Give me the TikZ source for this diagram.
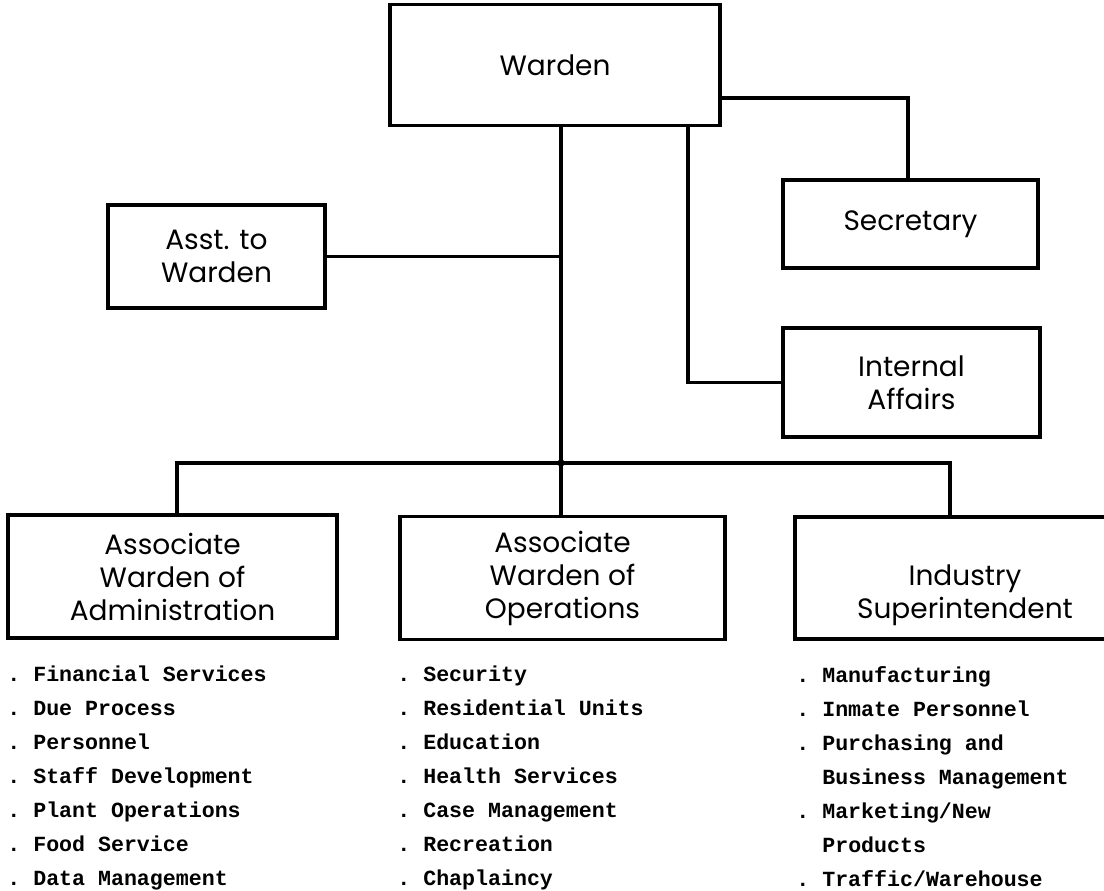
\documentclass[tikz,border=0pt]{standalone}
\usepackage{fontspec}
\setmainfont{Poppins}
\setmonofont{Liberation Mono}
\begin{document}
\begin{tikzpicture}[x=0.5pt, y=-0.5pt,
    every node/.style={inner sep=0pt},
    office/.style={draw, line width=1.8pt, align=center, font=\fontsize{14}{16.5}\selectfont},
    duty/.style={anchor=base west, font=\ttfamily\bfseries\frenchspacing\fontsize{10.8}{17}\selectfont},
    link/.style={line width=1.8pt}]
    \clip (0,0) rectangle (1104,890);
    % offices
    \node[office, minimum width=165pt, minimum height=60.5pt] (warden) at (555,65) {Warden};
    \node[office, minimum width=108.5pt, minimum height=51.5pt] (asst) at (216.5,256.5) {Asst. to\\Warden};
    \node[office, minimum width=127.5pt, minimum height=44pt] (secr) at (910.5,224) {Secretary};
    \node[office, minimum width=128.5pt, minimum height=54.5pt] (intaff) at (911.5,382.5) {Internal\\Affairs};
    \node[office, minimum width=164.5pt, minimum height=61.5pt] (adm) at (172.5,576.5) {Associate\\Warden of\\Administration};
    \node[office, minimum width=162.5pt, minimum height=61.5pt] (ops) at (562.5,578) {Associate\\Warden of\\Operations};
    \node[office, minimum width=170pt, minimum height=61pt] (ind) at (965,578) {\vphantom{Associate}\\Industry\\Superintendent};

    % lines
    \coordinate (bus) at (561,463);
    \coordinate (iatap) at (688,0);
    \draw[link] (warden.south -| bus) -- (ops.north -| bus);
    \draw[link] (asst.east) -- (asst.east -| bus);
    \draw[link] (warden.south -| iatap) |- (intaff.west);
    \draw[link] ([yshift=-16.5pt]warden.east) -| ([xshift=-1.25pt]secr.north);
    \draw[link] ([xshift=2.25pt]adm.north) |- (bus) -| ([xshift=-7.5pt]ind.north);
    \fill (bus) circle (1.8pt);

    % duties
    \foreach \duty [count=\i] in {. Financial Services, . Due Process, . Personnel, . Staff Development,
        . Plant Operations, . Food Service, . Data Management}
        \node[duty] (adm-\i) at (7,{681+34*(\i-1)}) {\duty};
    \foreach \duty [count=\i] in {. Security, . Residential Units, . Education, . Health Services,
        . Case Management, . Recreation, . Chaplaincy}
        \node[duty] (ops-\i) at (397,{681+34*(\i-1)}) {\duty};
    \foreach \duty [count=\i] in {. Manufacturing, . Inmate Personnel, . Purchasing and,
        {\hphantom{. }Business Management}, . Marketing/New, {\hphantom{. }Products}, . Traffic/Warehouse}
        \node[duty] (ind-\i) at (796,{682+34*(\i-1)}) {\duty};
\end{tikzpicture}
\end{document}
